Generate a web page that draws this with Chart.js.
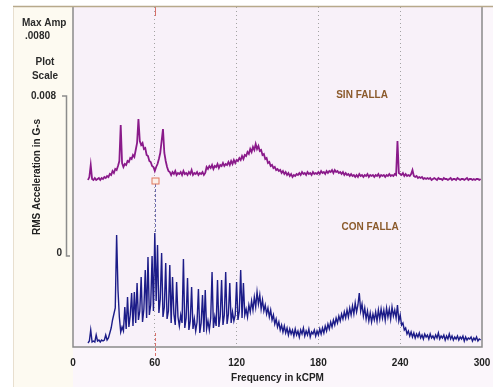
<!DOCTYPE html>
<html>
<head>
<meta charset="utf-8">
<title>SIN FALLA / CON FALLA</title>
<script src="https://cdn.jsdelivr.net/npm/chart.js@4.4.1/dist/chart.umd.min.js"></script>
<style>
  html, body { margin: 0; padding: 0; background: #ffffff; }
  #wrap { width: 493px; height: 387px; }
</style>
</head>
<body>
<div id="wrap"><canvas id="spectrumChart" width="493" height="387"></canvas></div>
<script>
// Spectrum lines, one every 1 kCPM from 11 to 299 kCPM
var freqStart = 11;
var freqCount = 289;
var freqKcpm = Array.from({ length: freqCount }, function (_, i) { return freqStart + i; });

// Amplitudes in mG, trace "SIN FALLA"
var ampSinFalla = [
  0.15, 0.3, 0.9, 0.2, 0.15, 0.25, 0.15, 0.2, 0.25, 0.15,
  0.25, 0.2, 0.3, 0.25, 0.35, 0.3, 0.45, 0.4, 0.6, 0.5,
  0.7, 0.65, 0.85, 1.1, 2.9, 1.0, 0.8, 0.95, 0.9, 1.1,
  1.05, 1.25, 1.2, 1.4, 1.3, 1.65, 2.0, 3.2, 2.1, 1.9,
  2.0, 1.7, 1.75, 1.4, 1.35, 1.1, 1.05, 0.85, 0.8, 0.6,
  0.8, 0.95, 1.2, 1.5, 2.1, 2.7, 1.5, 1.1, 0.8, 0.6,
  0.55, 0.4, 0.55, 0.45, 0.6, 0.4, 0.5, 0.45, 0.55, 0.4,
  0.6, 0.45, 0.5, 0.4, 0.55, 0.45, 0.65, 0.4, 0.5, 0.45,
  0.55, 0.4, 0.5, 0.45, 0.55, 0.4, 0.5, 0.8, 0.7, 0.85,
  0.75, 0.9, 0.7, 0.85, 0.8, 0.95, 0.75, 0.9, 0.85, 1.0,
  0.85, 0.95, 0.9, 1.05, 0.9, 1.1, 0.95, 1.15, 1.0, 1.15,
  1.1, 1.25, 1.15, 1.35, 1.2, 1.4, 1.35, 1.55, 1.45, 1.7,
  1.55, 1.8, 1.65, 1.95, 1.7, 1.85, 1.6, 1.65, 1.4, 1.45,
  1.2, 1.25, 1.0, 1.05, 0.85, 0.9, 0.75, 0.8, 0.65, 0.7,
  0.6, 0.65, 0.5, 0.6, 0.45, 0.55, 0.4, 0.5, 0.35, 0.45,
  0.3, 0.4, 0.35, 0.45, 0.4, 0.5, 0.4, 0.55, 0.45, 0.5,
  0.4, 0.55, 0.45, 0.5, 0.4, 0.55, 0.45, 0.5, 0.45, 0.55,
  0.45, 0.6, 0.5, 0.55, 0.45, 0.6, 0.5, 0.6, 0.55, 0.65,
  0.5, 0.65, 0.55, 0.6, 0.5, 0.55, 0.45, 0.55, 0.4, 0.5,
  0.4, 0.45, 0.35, 0.45, 0.35, 0.4, 0.3, 0.4, 0.3, 0.45,
  0.35, 0.4, 0.3, 0.4, 0.35, 0.45, 0.3, 0.4, 0.35, 0.4,
  0.3, 0.4, 0.35, 0.45, 0.3, 0.4, 0.35, 0.4, 0.3, 0.4,
  0.35, 0.45, 0.35, 0.4, 0.35, 0.45, 0.4, 2.1, 0.5, 0.45,
  0.4, 0.5, 0.35, 0.45, 0.35, 0.4, 0.35, 0.45, 0.65, 0.35,
  0.3, 0.35, 0.25, 0.3, 0.25, 0.3, 0.2, 0.25, 0.2, 0.25,
  0.2, 0.25, 0.15, 0.2, 0.25, 0.2, 0.15, 0.25, 0.2, 0.2,
  0.15, 0.25, 0.2, 0.2, 0.15, 0.2, 0.25, 0.15, 0.2, 0.2,
  0.15, 0.25, 0.2, 0.15, 0.2, 0.2, 0.15, 0.2, 0.25, 0.15,
  0.2, 0.2, 0.15, 0.2, 0.15, 0.2, 0.2, 0.15, 0.2
];

// Amplitudes in mG, trace "CON FALLA"
var ampConFalla = [
  0.1, 0.2, 0.75, 0.15, 0.2, 0.15, 0.5, 0.2, 0.25, 0.15,
  0.25, 0.2, 0.25, 0.5, 0.25, 0.35, 0.6, 0.85, 1.25, 1.55,
  1.85, 5.5, 2.75, 1.4, 0.65, 0.9, 0.7, 1.9, 0.8, 2.4,
  0.9, 1.5, 2.6, 0.95, 2.65, 1.1, 3.1, 1.25, 1.7, 3.4,
  1.15, 1.8, 3.75, 1.35, 4.4, 1.5, 2.0, 4.45, 1.7, 5.6,
  2.2, 5.0, 1.6, 2.3, 4.6, 1.4, 1.9, 4.1, 1.3, 1.7,
  4.0, 1.1, 3.4, 1.55, 1.0, 3.15, 1.4, 0.95, 1.5, 1.1,
  4.3, 0.85, 1.35, 3.35, 0.75, 1.2, 2.9, 0.8, 1.3, 0.7,
  1.15, 2.8, 0.6, 1.1, 2.5, 0.65, 2.75, 0.8, 1.2, 0.75,
  1.35, 3.65, 0.85, 1.4, 0.95, 3.25, 0.9, 1.45, 3.25, 1.0,
  1.5, 3.65, 1.05, 1.55, 3.1, 1.1, 1.65, 1.2, 1.5, 3.15,
  1.25, 1.7, 3.75, 1.35, 3.1, 1.5, 1.8, 1.4, 2.0, 1.65,
  2.2, 1.75, 2.4, 1.9, 2.65, 2.05, 2.5, 1.8, 2.25, 1.7,
  2.0, 1.55, 1.85, 1.4, 1.75, 1.25, 1.5, 1.05, 1.3, 0.9,
  1.15, 0.75, 1.0, 0.65, 0.95, 0.6, 0.85, 0.5, 0.8, 0.55,
  0.75, 0.45, 0.8, 0.5, 0.7, 0.4, 0.75, 0.55, 0.85, 0.45,
  0.7, 0.5, 0.8, 0.4, 0.65, 0.55, 0.75, 0.45, 0.7, 0.5,
  0.8, 0.55, 0.85, 0.6, 0.95, 0.7, 1.05, 0.8, 1.15, 0.9,
  1.25, 1.0, 1.35, 1.1, 1.45, 1.2, 1.55, 1.3, 1.65, 1.35,
  1.75, 1.4, 1.85, 1.5, 1.95, 1.55, 2.1, 1.65, 2.0, 2.6,
  1.7, 2.05, 1.45, 1.85, 1.3, 1.7, 1.2, 1.6, 1.15, 1.55,
  1.25, 1.65, 1.2, 1.75, 1.3, 1.8, 1.35, 1.75, 1.25, 1.85,
  1.4, 1.8, 1.3, 1.9, 1.45, 1.75, 1.35, 2.0, 1.2, 1.5,
  1.0, 1.1, 0.75, 0.85, 0.55, 0.7, 0.45, 0.65, 0.4, 0.6,
  0.35, 0.55, 0.4, 0.6, 0.35, 0.5, 0.3, 0.55, 0.4, 0.5,
  0.3, 0.55, 0.35, 0.45, 0.3, 0.5, 0.35, 0.6, 0.3, 0.45,
  0.35, 0.5, 0.25, 0.45, 0.3, 0.55, 0.3, 0.45, 0.25, 0.4,
  0.3, 0.45, 0.25, 0.4, 0.3, 0.45, 0.2, 0.4, 0.25, 0.35,
  0.3, 0.4, 0.2, 0.35, 0.25, 0.4, 0.2, 0.3, 0.25
];

// Axis ticks
var xTicks = [0, 60, 120, 180, 240, 300];
var scaleTicks = [0, 0.008];            // plot scale bar, G-s
var scaleTickLabels = ["0", "0.008"];
var cursorFreq = 60;                    // harmonic cursor, kCPM
var markerAmp = 0.1;                    // cursor box on SIN FALLA trace, mG
var cursorPeakAmp = 5.6;                // CON FALLA peak under the cursor, mG

var FONT = "'Liberation Sans', Arial, sans-serif";
Chart.defaults.font.family = FONT;

function toPoints(amps) {
  return amps.map(function (v, i) { return { x: freqKcpm[i], y: v }; });
}

var figurePlugin = {
  id: "figure",
  beforeDraw: function (chart) {
    var ctx = chart.ctx, a = chart.chartArea;
    ctx.save();
    ctx.fillStyle = "#fbf6fb";
    ctx.fillRect(13, 7, chart.width - 13, chart.height - 7);
    ctx.fillStyle = "#fdfaf1";
    ctx.fillRect(13, 7, a.left - 13, chart.height - 7);
    ctx.fillStyle = "#f8f1f9";
    ctx.fillRect(a.left, a.top, a.right - a.left, a.bottom - a.top);
    ctx.restore();
  },
  afterDatasetsDraw: function (chart) {
    var ctx = chart.ctx, a = chart.chartArea;
    var x = chart.scales.x, ySin = chart.scales.ySin, yCon = chart.scales.yCon, ys = chart.scales.yScale;
    ctx.save();

    // cursor at 60 kCPM
    var cx = Math.round(x.getPixelForValue(cursorFreq)) + 0.5;
    var my = ySin.getPixelForValue(markerAmp);
    var py = yCon.getPixelForValue(cursorPeakAmp);
    ctx.lineWidth = 1;
    ctx.strokeStyle = "#d9706a";
    ctx.beginPath();
    ctx.moveTo(cx, a.top); ctx.lineTo(cx, a.top + 9);
    ctx.stroke();
    ctx.setLineDash([3, 2]);
    ctx.beginPath();
    ctx.moveTo(cx, a.bottom - 14); ctx.lineTo(cx, a.bottom + 11);
    ctx.stroke();
    ctx.strokeStyle = "#6c6cae";
    ctx.beginPath();
    ctx.moveTo(cx, my + 3); ctx.lineTo(cx, py);
    ctx.stroke();
    ctx.setLineDash([]);
    ctx.fillStyle = "#fbefe9";
    ctx.strokeStyle = "#e0785c";
    ctx.fillRect(cx - 3.5, my - 3, 7, 6);
    ctx.strokeRect(cx - 3.5, my - 3, 7, 6);

    // frame
    ctx.strokeStyle = "#8a8a8a";
    ctx.lineWidth = 1.5;
    ctx.beginPath();
    ctx.moveTo(a.left, a.top); ctx.lineTo(a.left, a.bottom);
    ctx.lineTo(a.right, a.bottom); ctx.lineTo(a.right, a.top);
    ctx.stroke();
    ctx.strokeStyle = "#b7a98b";
    ctx.beginPath();
    ctx.moveTo(13, 6.5); ctx.lineTo(chart.width, 6.5);
    ctx.stroke();
    ctx.strokeStyle = "#e8dfcf";
    ctx.lineWidth = 1;
    ctx.beginPath();
    ctx.moveTo(13.5, 7); ctx.lineTo(13.5, chart.height);
    ctx.stroke();

    // plot scale bar
    var barX = 66.5;
    var yTop = ys.getPixelForValue(scaleTicks[1]);
    var yBot = ys.getPixelForValue(scaleTicks[0]);
    ctx.strokeStyle = "#8c8c8c";
    ctx.lineWidth = 1.5;
    ctx.beginPath();
    ctx.moveTo(62, yTop); ctx.lineTo(barX, yTop);
    ctx.lineTo(barX, yBot); ctx.lineTo(70, yBot);
    ctx.stroke();

    // left panel texts
    ctx.fillStyle = "#2a2a2a";
    ctx.font = "bold 10px " + FONT;
    ctx.textBaseline = "middle";
    ctx.textAlign = "left";
    ctx.fillText("Max Amp", 22, 23);
    ctx.fillText(".0080", 25, 36);
    ctx.textAlign = "center";
    ctx.fillText("Plot", 45, 62);
    ctx.fillText("Scale", 45, 76);
    ctx.textAlign = "right";
    ctx.fillText(scaleTickLabels[1], 56, yTop);
    ctx.fillText(scaleTickLabels[0], 62, yBot - 3);

    // trace names
    ctx.fillStyle = "#8b5a2b";
    ctx.textAlign = "center";
    ctx.fillText("SIN FALLA", x.getPixelForValue(212), ySin.getPixelForValue(4.4));
    ctx.fillText("CON FALLA", x.getPixelForValue(218), yCon.getPixelForValue(5.9));
    ctx.restore();
  }
};

new Chart("spectrumChart", {
  type: "line",
  data: {
    datasets: [{
      label: "SIN FALLA",
      data: toPoints(ampSinFalla),
      yAxisID: "ySin",
      borderColor: "#8a1a8a",
      borderWidth: 1.8,
      pointRadius: 0,
      tension: 0
    }, {
      label: "CON FALLA",
      data: toPoints(ampConFalla),
      yAxisID: "yCon",
      borderColor: "#1c1c88",
      borderWidth: 1.4,
      pointRadius: 0,
      tension: 0
    }]
  },
  options: {
    responsive: false,
    animation: false,
    layout: { padding: { left: 27, right: 11, top: 7, bottom: 3 } },
    plugins: {
      legend: { display: false },
      tooltip: { enabled: false }
    },
    scales: {
      x: {
        type: "linear",
        min: 0,
        max: 300,
        afterBuildTicks: function (s) { s.ticks = xTicks.map(function (v) { return { value: v }; }); },
        afterFit: function (s) { s.height = 37; s.paddingLeft = 0; s.paddingRight = 0; },
        ticks: { color: "#222", padding: 10, font: { size: 10, weight: "bold" } },
        grid: {
          drawTicks: false,
          lineWidth: 1,
          color: function (c) {
            var v = c.tick && c.tick.value;
            return (v > 0 && v < 300) ? "#a3a3a3" : "rgba(0,0,0,0)";
          }
        },
        border: { display: false, dash: [1, 3] },
        title: {
          display: true,
          text: "Frequency in kCPM",
          color: "#222",
          padding: { top: 0, bottom: 0 },
          font: { size: 10, weight: "bold" }
        }
      },
      yScale: {
        position: "left",
        min: -0.00455,
        max: 0.01245,
        ticks: { display: false },
        grid: { display: false },
        border: { display: false },
        afterFit: function (s) { s.width = 46; },
        title: {
          display: true,
          text: "RMS Acceleration in G-s",
          color: "#222",
          font: { size: 10, weight: "bold" }
        }
      },
      ySin: { display: false, min: -8.2, max: 8.8 },
      yCon: { display: false, min: -0.1, max: 16.9 }
    }
  },
  plugins: [figurePlugin]
});
</script>
</body>
</html>
